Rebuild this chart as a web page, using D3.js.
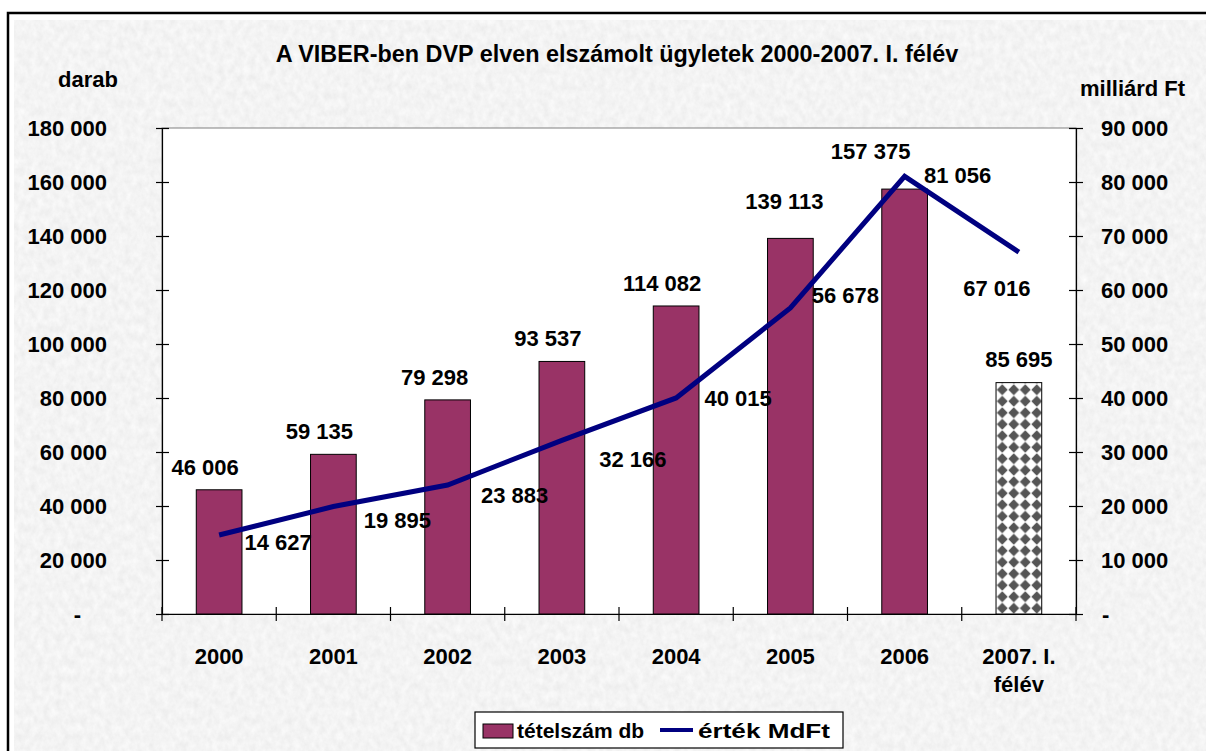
<!DOCTYPE html>
<html>
<head>
<meta charset="utf-8">
<script src="https://cdn.jsdelivr.net/npm/d3@7"></script>
<style>
  html, body { margin: 0; padding: 0; background: #fff; }
  svg { display: block; font-family: "Liberation Sans", Arial, sans-serif; font-weight: bold; }
</style>
</head>
<body>
<div id="chart"></div>
<script>
// data
const categories = ['2000', '2001', '2002', '2003', '2004', '2005', '2006', '2007. I.\nfélév'];
const counts = [46006, 59135, 79298, 93537, 114082, 139113, 157375, 85695];   // tételszám db
const values = [14627, 19895, 23883, 32166, 40015, 56678, 81056, 67016];      // érték MdFt
const leftTicks = [0, 20000, 40000, 60000, 80000, 100000, 120000, 140000, 160000, 180000];
const rightTicks = [0, 10000, 20000, 30000, 40000, 50000, 60000, 70000, 80000, 90000];

// label offsets as they were placed by hand in the original (px)
const barLabelNudge = [[-14, -23], [-14, -23], [-13, -23], [-14, -23], [-14, -23], [-6, -37], [-34, -38], [0, -24]];
const lineLabelNudge = [[59, 7], [64, 14], [67, 10], [71, 19], [62, 0], [55, -13], [53, -1], [-22, 36]];

const width = 1206, height = 751;
const plot = { left: 162, right: 1076, top: 128, bottom: 614 };
const fmt = v => v === 0 ? '-' : d3.format(',')(v).replace(/,/g, ' ');

const svg = d3.select('#chart').append('svg')
  .attr('width', width)
  .attr('height', height);

const defs = svg.append('defs');

// paper-like gray texture
const filter = defs.append('filter').attr('id', 'paper')
  .attr('x', 0).attr('y', 0).attr('width', 1).attr('height', 1);
filter.append('feTurbulence')
  .attr('type', 'fractalNoise')
  .attr('baseFrequency', '0.16 0.12')
  .attr('numOctaves', 4)
  .attr('seed', 7);
filter.append('feColorMatrix')
  .attr('type', 'matrix')
  .attr('values', '0.16 0 0 0 0.82  0.16 0 0 0 0.82  0.16 0 0 0 0.82  0 0 0 0 1');

// diamond pattern for the half-year bar
const pat = defs.append('pattern').attr('id', 'diamonds')
  .attr('patternUnits', 'userSpaceOnUse')
  .attr('width', 11.5).attr('height', 11.5);
pat.append('rect').attr('width', 11.5).attr('height', 11.5).attr('fill', '#fff');
pat.append('path')
  .attr('d', 'M5.75,0.3 L11.2,5.75 L5.75,11.2 L0.3,5.75 Z')
  .attr('fill', '#555');

// outer frame + textured background
svg.append('rect')
  .attr('x', 8).attr('y', 13)
  .attr('width', width + 10).attr('height', height + 10)
  .attr('fill', '#fff')
  .attr('stroke', '#000')
  .attr('stroke-width', 2.5);
svg.append('rect')
  .attr('x', 14).attr('y', 20)
  .attr('width', width - 14).attr('height', height - 20)
  .attr('filter', 'url(#paper)');

// scales
const x = d3.scaleBand()
  .domain(categories)
  .range([plot.left, plot.right])
  .paddingInner(0.6)
  .paddingOuter(0.3);
const yL = d3.scaleLinear().domain([0, 180000]).range([plot.bottom, plot.top]);
const yR = d3.scaleLinear().domain([0, 90000]).range([plot.bottom, plot.top]);

// plot area
svg.append('rect')
  .attr('x', plot.left).attr('y', plot.top)
  .attr('width', plot.right - plot.left)
  .attr('height', plot.bottom - plot.top)
  .attr('fill', '#fff')
  .attr('stroke', '#808080')
  .attr('stroke-width', 1);

// bars
svg.append('g')
  .selectAll('rect')
  .data(counts)
  .join('rect')
  .attr('x', (d, i) => x(categories[i]))
  .attr('y', d => yL(d))
  .attr('width', x.bandwidth())
  .attr('height', d => yL(0) - yL(d))
  .attr('fill', (d, i) => i === counts.length - 1 ? 'url(#diamonds)' : '#993366')
  .attr('stroke', '#000')
  .attr('stroke-width', 1);
pat.attr('x', x(categories[categories.length - 1]) + 0.5).attr('y', yL(0));

// axes
const axisStyle = g => {
  g.select('.domain').attr('stroke', '#000').attr('stroke-width', 1.2);
  g.selectAll('.tick line').attr('stroke', '#000').attr('stroke-width', 1.2);
  g.selectAll('text')
    .attr('font-size', 22)
    .attr('font-weight', 'bold')
    .attr('font-family', '"Liberation Sans", Arial, sans-serif')
    .attr('fill', '#000');
};

svg.append('g')
  .attr('transform', `translate(${plot.left},0)`)
  .call(d3.axisLeft(yL).tickValues(leftTicks).tickFormat(fmt).tickSizeOuter(0).tickSize(6).tickPadding(49))
  .call(axisStyle)
  .call(g => g.selectAll('.tick line').attr('x1', 7))
  .call(g => g.selectAll('.tick text').filter(d => d === 0).attr('dx', -26));

svg.append('g')
  .attr('transform', `translate(${plot.right},0)`)
  .call(d3.axisRight(yR).tickValues(rightTicks).tickFormat(fmt).tickSizeOuter(0).tickSize(7).tickPadding(18))
  .call(axisStyle)
  .call(g => g.selectAll('.tick line').attr('x1', -7))
  .call(g => g.selectAll('.tick text').filter(d => d === 0).attr('dx', 1));

const xAxis = svg.append('g')
  .attr('transform', `translate(0,${plot.bottom})`)
  .call(d3.axisBottom(x).tickSize(0).tickPadding(34).tickSizeOuter(0))
  .call(axisStyle);
xAxis.selectAll('.tick text').each(function (d) {
  const t = d3.select(this);
  const lines = d.split('\n');
  t.text(null);
  lines.forEach((ln, k) => {
    t.append('tspan').attr('x', 0).attr('dy', k === 0 ? '0.71em' : '1.28em').text(ln);
  });
});
// category separators crossing the axis
svg.append('g')
  .selectAll('line')
  .data(d3.range(categories.length + 1))
  .join('line')
  .attr('x1', i => plot.left + i * x.step())
  .attr('x2', i => plot.left + i * x.step())
  .attr('y1', plot.bottom - 7)
  .attr('y2', plot.bottom + 7)
  .attr('stroke', '#000')
  .attr('stroke-width', 1.2);

// value line
const cx = i => x(categories[i]) + x.bandwidth() / 2;
svg.append('path')
  .datum(values)
  .attr('fill', 'none')
  .attr('stroke', '#000080')
  .attr('stroke-width', 5)
  .attr('stroke-linejoin', 'miter')
  .attr('d', d3.line().x((d, i) => cx(i)).y(d => yR(d)));

// data labels
const labelFont = g => g
  .attr('font-size', 22)
  .attr('text-anchor', 'middle')
  .attr('dy', '0.36em')
  .attr('fill', '#000');

svg.append('g').selectAll('text')
  .data(counts)
  .join('text')
  .call(labelFont)
  .attr('x', (d, i) => cx(i) + barLabelNudge[i][0])
  .attr('y', (d, i) => yL(d) + barLabelNudge[i][1])
  .text(fmt);

svg.append('g').selectAll('text')
  .data(values)
  .join('text')
  .call(labelFont)
  .attr('x', (d, i) => cx(i) + lineLabelNudge[i][0])
  .attr('y', (d, i) => yR(d) + lineLabelNudge[i][1])
  .text(fmt);

// titles
svg.append('text')
  .attr('x', 617).attr('y', 62)
  .attr('text-anchor', 'middle')
  .attr('font-size', 23.4)
  .text('A VIBER-ben DVP elven elszámolt ügyletek 2000-2007. I. félév');
svg.append('text')
  .attr('x', 58).attr('y', 87)
  .attr('font-size', 22)
  .text('darab');
svg.append('text')
  .attr('x', 1080).attr('y', 96)
  .attr('font-size', 22)
  .text('milliárd Ft');

// legend
const legend = svg.append('g').attr('transform', 'translate(475,712)');
legend.append('rect')
  .attr('width', 368).attr('height', 36)
  .attr('fill', '#fff').attr('stroke', '#000').attr('stroke-width', 1.2);
legend.append('rect')
  .attr('x', 8).attr('y', 12).attr('width', 30).attr('height', 14)
  .attr('fill', '#993366').attr('stroke', '#000');
legend.append('text')
  .attr('x', 42).attr('y', 26).attr('font-size', 21)
  .text('tételszám db');
legend.append('line')
  .attr('x1', 185).attr('x2', 218).attr('y1', 18).attr('y2', 18)
  .attr('stroke', '#000080').attr('stroke-width', 4);
legend.append('text')
  .attr('x', 223).attr('y', 26).attr('font-size', 21)
  .attr('textLength', 132).attr('lengthAdjust', 'spacingAndGlyphs')
  .text('érték MdFt');
</script>
</body>
</html>
